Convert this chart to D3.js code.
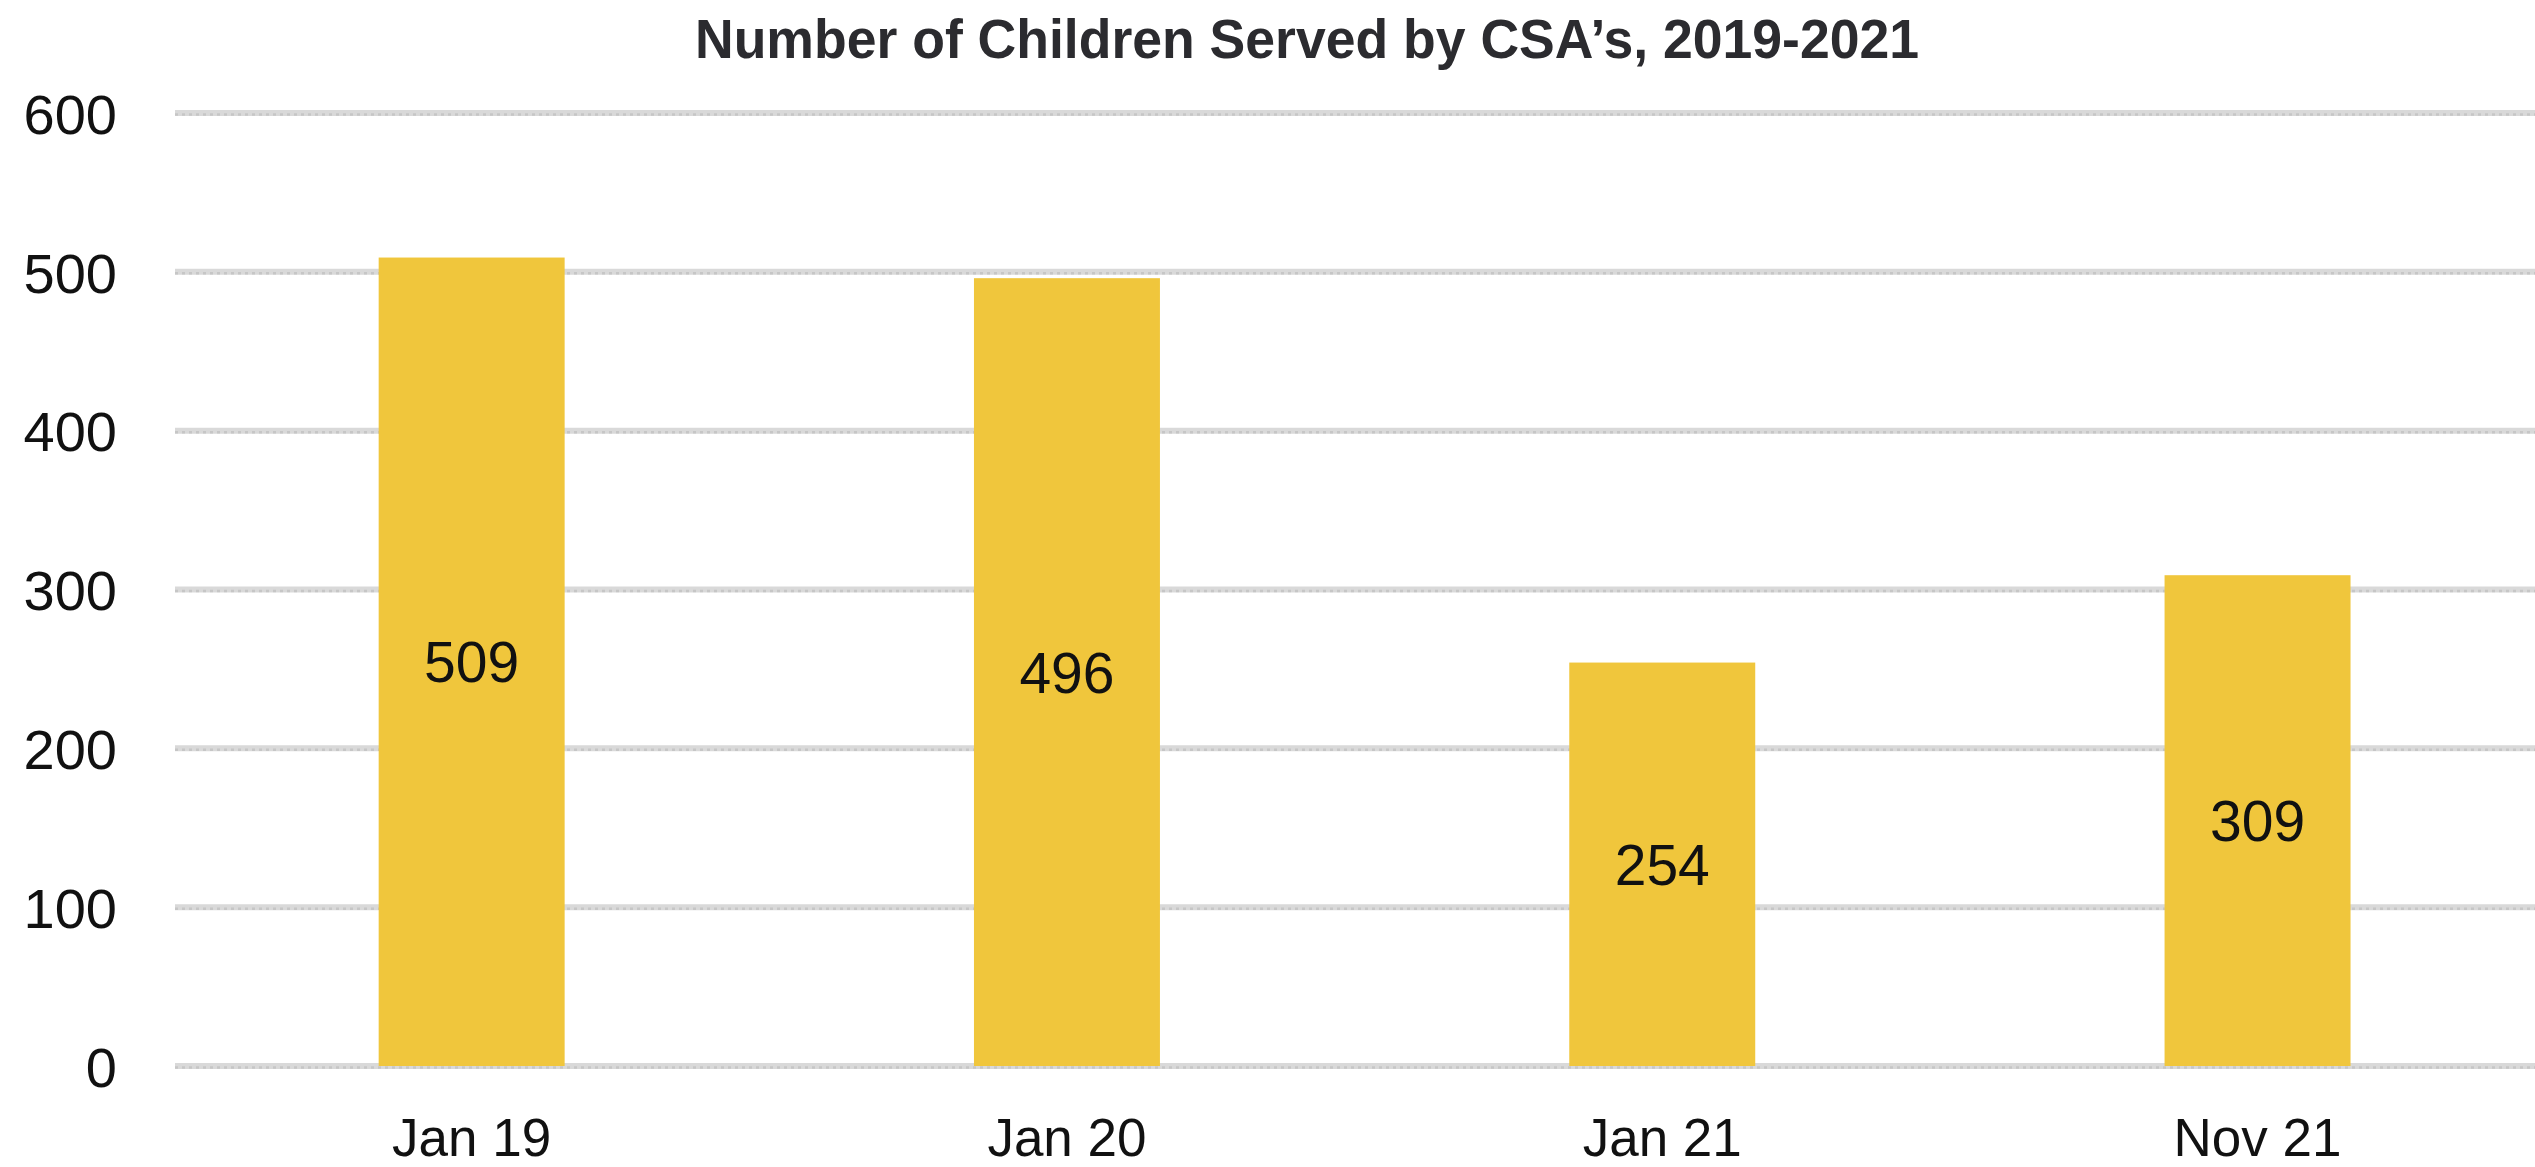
<!DOCTYPE html>
<html>
<head>
<meta charset="utf-8">
<script src="https://cdn.jsdelivr.net/npm/d3@7"></script>
<style>
  html, body { margin: 0; padding: 0; background: #ffffff; }
  svg { display: block; }
</style>
</head>
<body>
<svg id="chart" width="2535" height="1167"></svg>
<script>
// Children served, by reporting month
const categories = ["Jan 19", "Jan 20", "Jan 21", "Nov 21"];
const values = [509, 496, 254, 309];
const yTicks = [0, 100, 200, 300, 400, 500, 600];
const title = "Number of Children Served by CSA\u2019s, 2019-2021";

const W = 2535, H = 1167;
const svg = d3.select("#chart");

const x = d3.scaleBand()
  .domain(categories)
  .range([174, 2555.2])
  .paddingInner(0.6876)
  .paddingOuter(0.3438);

const y = d3.scaleLinear()
  .domain([0, 600])
  .range([1066, 113]);

// Title
svg.append("text")
  .attr("x", 1307)
  .attr("y", 58)
  .attr("text-anchor", "middle")
  .attr("font-family", "'Liberation Sans', Arial, sans-serif")
  .attr("font-weight", "bold")
  .attr("font-size", 55)
  .attr("fill", "#2b2b2f")
  .attr("textLength", 1224)
  .attr("lengthAdjust", "spacingAndGlyphs")
  .text(title);

// Horizontal gridlines
const grid = svg.append("g");
grid.selectAll("line.base")
  .data(yTicks)
  .join("line")
  .attr("class", "base")
  .attr("x1", 175).attr("x2", W)
  .attr("y1", d => y(d)).attr("y2", d => y(d))
  .attr("stroke", "#d9d9d9")
  .attr("stroke-width", 6);
grid.selectAll("line.dots")
  .data(yTicks)
  .join("line")
  .attr("class", "dots")
  .attr("x1", 175).attr("x2", W)
  .attr("y1", d => y(d) + 1.5).attr("y2", d => y(d) + 1.5)
  .attr("stroke", "#c6c6c6")
  .attr("stroke-width", 2.5)
  .attr("stroke-dasharray", "3,4");

// Y axis labels
const yAxis = d3.axisLeft(y).tickValues(yTicks).tickSize(0).tickPadding(0);
const yg = svg.append("g").attr("transform", "translate(117,0)").call(yAxis);
yg.select(".domain").remove();
yg.selectAll("text")
  .attr("font-family", "'Liberation Sans', Arial, sans-serif")
  .attr("font-size", 56)
  .attr("fill", "#111111")
  .attr("dy", "0.36em");

// Bars
svg.append("g").selectAll("rect")
  .data(values)
  .join("rect")
  .attr("x", (d, i) => x(categories[i]))
  .attr("width", x.bandwidth())
  .attr("y", d => y(d))
  .attr("height", d => y(0) - y(d))
  .attr("fill", "#f0c63c");

// Value labels centred inside the bars
svg.append("g").selectAll("text")
  .data(values)
  .join("text")
  .attr("x", (d, i) => x(categories[i]) + x.bandwidth() / 2)
  .attr("y", d => (y(d) + y(0)) / 2)
  .attr("dy", "0.36em")
  .attr("text-anchor", "middle")
  .attr("font-family", "'Liberation Sans', Arial, sans-serif")
  .attr("font-size", 57)
  .attr("fill", "#111111")
  .text(d => d);

// X axis labels
const xAxis = d3.axisBottom(x).tickSize(0).tickPadding(0);
const xg = svg.append("g").attr("transform", "translate(0,1156)").call(xAxis);
xg.select(".domain").remove();
xg.selectAll("text")
  .attr("font-family", "'Liberation Sans', Arial, sans-serif")
  .attr("font-size", 53)
  .attr("fill", "#111111")
  .attr("dy", 0)
  .attr("y", 0);
</script>
</body>
</html>
